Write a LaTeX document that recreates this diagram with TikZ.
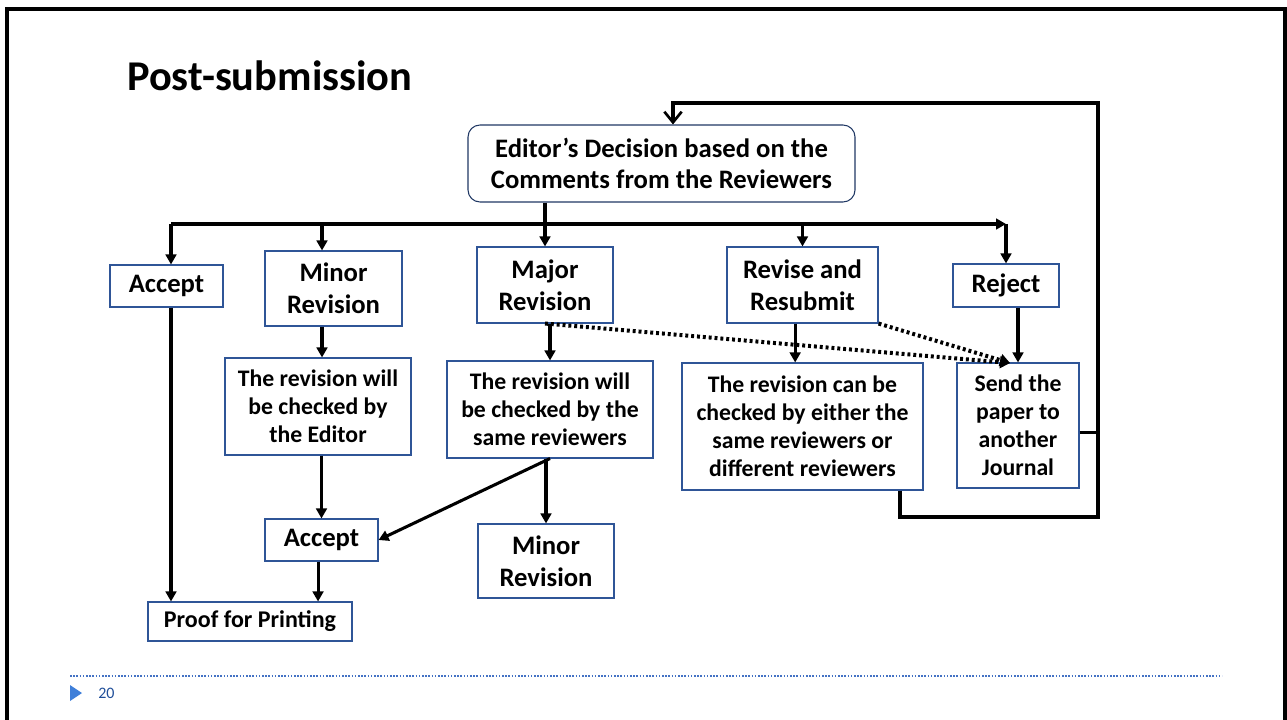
\documentclass[tikz,border=0pt]{standalone}
\usepackage{fontspec}
\setmainfont{Carlito}
\usetikzlibrary{arrows.meta}
\definecolor{boxblue}{HTML}{2F5597}
\definecolor{darkblue}{HTML}{203864}
\definecolor{footblue}{HTML}{4472C4}
\definecolor{tri}{HTML}{3F7FD9}
\definecolor{numblue}{HTML}{1F4E99}
\tikzset{
  box/.style={draw=boxblue, line width=0.8pt, inner sep=0pt, align=center, font=\bfseries},
  big/.style={font=\fontsize{20}{24}\selectfont\bfseries},
  small/.style={font=\fontsize{17.8}{21}\selectfont\bfseries},
  conn/.style={line width=2.3pt, -{Triangle[length=7.5pt,width=8pt]}},
  plain/.style={line width=2.3pt},
  dots/.style={line width=3pt, dash pattern=on 2.2pt off 2.2pt, -{Triangle[length=7.5pt,width=9pt]}},
}
\begin{document}
\begin{tikzpicture}[x=0.75pt,y=-0.75pt]
\useasboundingbox (0,0) rectangle (1287,720);
% slide frame
\draw[line width=2.3pt] (7,740) -- (7,9) -- (1285,9) -- (1285,740);
% title
\node[anchor=base west, font=\fontsize{31.8}{36}\selectfont\bfseries, inner sep=0pt] (title) at (127,91) {Post-submission};

% nodes
\node[box, draw=darkblue, rounded corners=9pt, minimum width=290.25pt, minimum height=57.75pt,
      font=\fontsize{20}{23.3}\selectfont\bfseries] (editor) at (661.5,163.5)
      {Editor’s Decision based on the\\Comments from the Reviewers};
\node[box, big, minimum width=84.75pt, minimum height=31.5pt] (acc1) at (166.5,286) {Accept};
\node[box, big, minimum width=102.75pt, minimum height=56.25pt] (minor1) at (333.5,288.5) {Minor\\Revision};
\node[box, big, minimum width=102pt, minimum height=57pt] (major) at (545,285) {Major\\Revision};
\node[box, big, minimum width=113.25pt, minimum height=57pt] (revise) at (802.5,285) {Revise and\\Resubmit};
\node[box, big, minimum width=79.5pt, minimum height=32.25pt] (reject) at (1006,285.5) {Reject};
\node[box, small, minimum width=139.5pt, minimum height=72.75pt] (minchk) at (318,406.5)
      {The revision will\\be checked by\\the Editor};
\node[box, small, minimum width=154.5pt, minimum height=72.75pt] (majchk) at (550,409.5)
      {The revision will\\be checked by the\\same reviewers};
\node[box, small, minimum width=180.75pt, minimum height=95.25pt] (revchk) at (802.5,426.5)
      {The revision can be\\checked by either the\\same reviewers or\\different reviewers};
\node[box, small, minimum width=91.5pt, minimum height=93.75pt] (send) at (1018,425.5)
      {Send the\\paper to\\another\\Journal};
\node[box, big, minimum width=84.75pt, minimum height=31.5pt] (acc2) at (321.5,540) {Accept};
\node[box, big, minimum width=102pt, minimum height=55.5pt] (minor2) at (546,561) {Minor\\Revision};
\node[box, minimum width=153pt, minimum height=29.25pt, font=\fontsize{18}{20}\selectfont\bfseries]
      (proof) at (250,621.5) {Proof for Printing};

% bus
\coordinate (busL) at (171,224);
\coordinate (busR) at (1006,224);
\coordinate (b2) at (322,224);
\coordinate (b4) at (802.5,224);
\draw[conn] (busL) -- (busR);
\draw[conn] (busR) -- (reject.north);
\draw[conn] (busL) -- (busL |- acc1.north);
\draw[conn] (b2) -- (b2 |- minor1.north);
\draw[conn] (major.north |- editor.south) -- (major.north);
\draw[conn] (b4) -- (revise.north);

% second level
\draw[conn] (b2 |- minor1.south) -- (b2 |- minchk.north);
\draw[conn] (majchk.north |- major.south) -- (majchk.north);
\draw[conn] ([xshift=-5.5pt]revise.south) -- ([xshift=-5.5pt]revise.south |- revchk.north);
\draw[conn] (send.north |- reject.south) -- (send.north);

% dotted
\coordinate (sendtop) at (1010,363);
\draw[dots] (major.south) -- (sendtop);
\draw[dots] (revise.south east) -- (sendtop);

% third level
\draw[conn] (acc2.north |- minchk.south) -- (acc2.north);
\draw[conn] (minor2.north |- majchk.south) -- (minor2.north);
\draw[conn] (majchk.south) -- (acc2.east);
\draw[conn] (busL |- acc1.south) -- (busL |- proof.north);
\draw[conn] ([xshift=-2.6pt]acc2.south) -- ([xshift=-2.6pt]acc2.south |- proof.north);

% feedback loop
\coordinate (fbA) at (900,517);
\coordinate (fbB) at (1098,517);
\coordinate (fbC) at (1098,103);
\coordinate (fbD) at (673,103);
\draw[line width=2.3pt, -{Straight Barb[length=8pt,width=13pt,line width=2pt]}]
  (revchk.south -| fbA) -- (fbA) -- (fbB) -- (fbC) -- (fbD) -- (editor.north -| fbD);
\draw[plain] ([yshift=-5.5pt]send.east) -- ([yshift=-5.5pt]send.east -| fbB);

% footer
\draw[footblue, line width=0.9pt, dash pattern=on 1.2pt off 1.2pt] (70,676) coordinate (fl) -- (1222,676) coordinate (fr);
\fill[tri] (70,685) coordinate (t1) -- (82,693) -- (70,701) -- cycle;
\node[anchor=west, text=numblue, font=\fontsize{12}{14}\selectfont, inner sep=0pt] (pagenum) at (98,693) {20};
\end{tikzpicture}
\end{document}
